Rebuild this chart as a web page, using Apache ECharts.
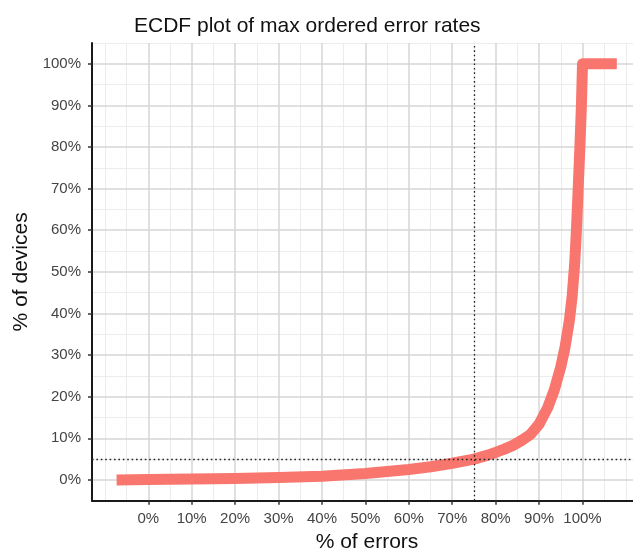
<!DOCTYPE html>
<html>
<head>
<meta charset="utf-8">
<title>ECDF plot of max ordered error rates</title>
<script src="https://cdn.jsdelivr.net/npm/echarts@6/dist/echarts.min.js"></script>
<style>
  html, body { margin: 0; padding: 0; background: #fff; }
  #chart { width: 633px; height: 550px; }
</style>
</head>
<body>
<div id="chart"></div>
<script>
// ECDF curve: share of errors (x, %) against cumulative share of devices (y, %)
const errorRate   = [-7.3, 0, 10, 20, 30, 40, 50, 60, 65, 70, 75, 78, 80, 82, 84, 86, 88, 90, 92, 93.5, 95, 96, 97, 97.6, 98.2, 98.6, 99.0, 99.4, 99.75, 100, 107.9];
const deviceShare = [0, 0.1, 0.2, 0.35, 0.55, 0.9, 1.55, 2.5, 3.15, 4.0, 5.0, 5.9, 6.6, 7.4, 8.3, 9.5, 10.9, 13.4, 17.4, 21.6, 27.2, 32, 38.5, 44, 52, 60, 70, 80, 90, 100, 100];

// axis breaks
const majorBreaks = [0, 10, 20, 30, 40, 50, 60, 70, 80, 90, 100];
const minorBreaksX = [-10, -5, 5, 15, 25, 35, 45, 55, 65, 75, 85, 95, 105, 110];
const minorBreaksY = [5, 15, 25, 35, 45, 55, 65, 75, 85, 95, 105];

// reference cut-offs
const refError = 75;
const refDevice = 5;

const FONT = "'Liberation Sans', Arial, Helvetica, sans-serif";

const chart = echarts.init(document.getElementById('chart'), null, { renderer: 'canvas' });

const vLine = (v, style) => ({ xAxis: v, lineStyle: style });
const hLine = (v, style) => ({ yAxis: v, lineStyle: style });
const minorStyle = { color: '#ececec', width: 1, type: 'solid' };
const majorStyle = { color: '#d6d6d6', width: 1.5, type: 'solid' };
const refStyle   = { color: '#222', width: 1.3, type: [1.6, 2.8] };

const pct = v => v + '%';

chart.setOption({
  animation: false,
  backgroundColor: '#ffffff',
  title: {
    text: 'ECDF plot of max ordered error rates',
    left: 129,
    top: 11,
    textStyle: { fontFamily: FONT, fontSize: 21, fontWeight: 'normal', color: '#111' }
  },
  grid: { left: 92, top: 43, width: 550, bottom: 49.3, containLabel: false, outerBoundsMode: 'none' },
  xAxis: {
    type: 'value',
    min: -12.96,
    max: 113.7,
    z: 5,
    name: '% of errors',
    nameLocation: 'middle',
    nameGap: 26,
    nameTextStyle: { fontFamily: FONT, fontSize: 21, color: '#111' },
    axisLine: { show: true, onZero: false, lineStyle: { color: '#1a1a1a', width: 2 } },
    axisTick: { show: true, customValues: majorBreaks, length: 4, lineStyle: { color: '#333', width: 1.5 } },
    axisLabel: { customValues: majorBreaks, formatter: pct, margin: 11, fontFamily: FONT, fontSize: 15, color: '#444' },
    splitLine: { show: false }
  },
  yAxis: {
    type: 'value',
    min: -5,
    max: 105,
    z: 5,
    name: '% of devices',
    nameLocation: 'middle',
    nameGap: 54,
    nameTextStyle: { fontFamily: FONT, fontSize: 21, color: '#111' },
    axisLine: { show: true, onZero: false, lineStyle: { color: '#1a1a1a', width: 2 } },
    axisTick: { show: true, customValues: majorBreaks, length: 4, lineStyle: { color: '#333', width: 1.5 } },
    axisLabel: { customValues: majorBreaks, formatter: pct, margin: 11, fontFamily: FONT, fontSize: 15, color: '#444' },
    splitLine: { show: false }
  },
  series: [
    {
      // panel grid: minor then major lines, kept beneath the curve
      type: 'line',
      data: [],
      z: 1,
      silent: true,
      markLine: {
        z: 1,
        silent: true,
        symbol: 'none',
        label: { show: false },
        animation: false,
        data: [
          ...minorBreaksX.map(v => vLine(v, minorStyle)),
          ...minorBreaksY.map(v => hLine(v, minorStyle)),
          ...majorBreaks.map(v => vLine(v, majorStyle)),
          ...majorBreaks.map(v => hLine(v, majorStyle))
        ]
      }
    },
    {
      name: 'ECDF',
      type: 'line',
      z: 3,
      data: errorRate.map((x, i) => [x, deviceShare[i]]),
      showSymbol: false,
      symbol: 'none',
      smooth: false,
      lineStyle: { color: '#F8766D', width: 11, cap: 'butt', join: 'round' }
    },
    {
      // dotted cut-off lines drawn over the curve
      type: 'line',
      data: [],
      z: 6,
      silent: true,
      markLine: {
        z: 6,
        silent: true,
        symbol: 'none',
        label: { show: false },
        animation: false,
        data: [vLine(refError, refStyle), hLine(refDevice, refStyle)]
      }
    }
  ]
});
</script>
</body>
</html>
